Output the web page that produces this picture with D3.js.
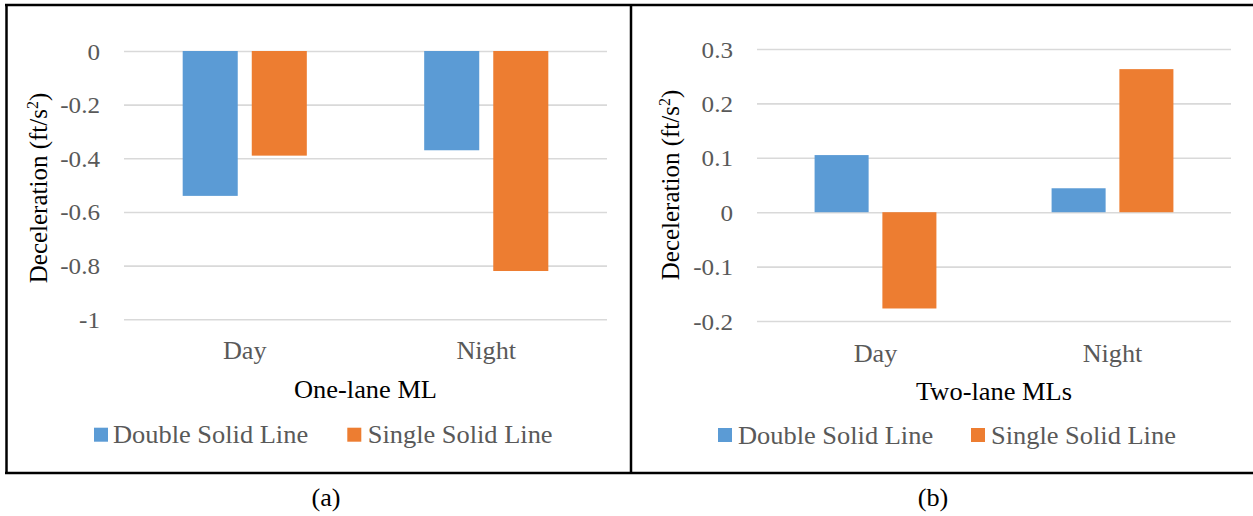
<!DOCTYPE html>
<html>
<head>
<meta charset="utf-8">
<script src="https://cdn.jsdelivr.net/npm/d3@7"></script>
<style>
  html, body { margin: 0; padding: 0; background: #fff; }
  svg { display: block; }
  svg text { font-family: 'Liberation Serif', 'Times New Roman', Tinos, Times, 'DejaVu Serif', 'Noto Serif', serif; }
</style>
</head>
<body>
<svg id="fig" width="1253" height="516"></svg>
<script>
// Categories and series
const categories = ["Day", "Night"];
const seriesNames = ["Double Solid Line", "Single Solid Line"];
const seriesColors = ["#5b9bd5", "#ed7d31"];

// (a) One-lane ML deceleration (ft/s^2)
const oneLaneDouble = [-0.54, -0.37];
const oneLaneSingle = [-0.39, -0.82];
const oneLaneTicks = [0, -0.2, -0.4, -0.6, -0.8, -1];

// (b) Two-lane MLs deceleration (ft/s^2)
const twoLaneDouble = [0.105, 0.044];
const twoLaneSingle = [-0.177, 0.263];
const twoLaneTicks = [0.3, 0.2, 0.1, 0, -0.1, -0.2];

const SERIF = "'Liberation Serif', 'Times New Roman', Tinos, Times, 'DejaVu Serif', 'Noto Serif', serif";
const SX = 1.07; // horizontal text stretch
const svg = d3.select("#fig");

const panels = [
  {
    title: "One-lane ML", caption: "(a)",
    values: [oneLaneDouble, oneLaneSingle],
    ticks: oneLaneTicks, domain: [-1, 0],
    x0: 124, x1: 607, yBottom: 319.3, yTop: 51,
    tickRight: 100, yTitleX: 38.5, yTitleY: 188,
    catBase: 359, xTitleBase: 398,
    legendSq: [94, 347.3], legendText: [113, 367.7], legendY: 427.7, legendBase: 443,
    captionX: 326
  },
  {
    title: "Two-lane MLs", caption: "(b)",
    values: [twoLaneDouble, twoLaneSingle],
    ticks: twoLaneTicks, domain: [-0.2, 0.3],
    x0: 757, x1: 1231, yBottom: 321, yTop: 49,
    tickRight: 733, yTitleX: 671, yTitleY: 185,
    catBase: 362, xTitleBase: 400,
    legendSq: [718, 971], legendText: [738, 991], legendY: 428, legendBase: 443.5,
    captionX: 933
  }
];

function stretchedText(g, x, y, str, size, fill, anchor) {
  return g.append("text")
    .attr("transform", `translate(${x},${y}) scale(${SX},1)`)
    .attr("text-anchor", anchor || "start")
    .style("font-family", SERIF)
    .attr("font-size", size)
    .attr("fill", fill)
    .text(str);
}

panels.forEach(p => {
  const g = svg.append("g");

  const y = d3.scaleLinear().domain(p.domain).range([p.yBottom, p.yTop]);
  const x = d3.scaleBand().domain(categories).range([p.x0, p.x1])
    .paddingInner(0.486).paddingOuter(0.243);
  const xs = d3.scaleBand().domain(seriesNames).range([0, x.bandwidth()])
    .paddingInner(0.203).paddingOuter(0);

  // gridlines + tick labels
  const axis = d3.axisLeft(y).tickValues(p.ticks).tickSize(-(p.x1 - p.x0))
    .tickFormat(d => String(d));
  const ag = g.append("g").attr("transform", `translate(${p.x0},0)`).call(axis);
  ag.attr("font-family", null);
  ag.select(".domain").remove();
  ag.selectAll(".tick line").attr("stroke", "#d9d9d9").attr("stroke-width", 1.6);
  ag.selectAll(".tick text")
    .attr("x", null).attr("dy", null)
    .style("font-family", SERIF)
    .attr("font-size", 23.5)
    .attr("fill", "#595959")
    .attr("text-anchor", "end")
    .attr("transform", `translate(${p.tickRight - p.x0},8) scale(${SX},1)`);

  // bars
  seriesNames.forEach((s, si) => {
    g.append("g").selectAll("rect")
      .data(categories.map((c, ci) => ({ c, v: p.values[si][ci] })))
      .join("rect")
      .attr("x", d => x(d.c) + xs(s))
      .attr("width", xs.bandwidth())
      .attr("y", d => y(Math.max(0, d.v)))
      .attr("height", d => Math.abs(y(d.v) - y(0)))
      .attr("fill", seriesColors[si]);
  });

  // category labels
  categories.forEach(c => {
    stretchedText(g, x(c) + x.bandwidth() / 2, p.catBase, c, 24.5, "#595959", "middle");
  });

  // x-axis title
  stretchedText(g, (p.x0 + p.x1) / 2, p.xTitleBase, p.title, 24.7, "#000", "middle");

  // y-axis title
  const yt = g.append("text")
    .attr("transform", `translate(${p.yTitleX},${p.yTitleY}) rotate(-90)`)
    .attr("text-anchor", "middle")
    .attr("dy", "0.33em")
    .style("font-family", SERIF)
    .attr("font-size", 25)
    .attr("fill", "#000");
  yt.append("tspan").text("Deceleration (ft/s");
  yt.append("tspan").attr("font-size", 16).attr("dy", -9).text("2");
  yt.append("tspan").attr("dy", 9).text(")");

  // legend
  seriesNames.forEach((s, si) => {
    g.append("rect")
      .attr("x", p.legendSq[si]).attr("y", p.legendY)
      .attr("width", 14).attr("height", 14)
      .attr("fill", seriesColors[si]);
    stretchedText(g, p.legendText[si], p.legendBase, s, 24.7, "#595959", "start");
  });

  // caption below the frame
  stretchedText(g, p.captionX, 506, p.caption, 24.5, "#000", "middle");
});

// frame around both panels
const frame = svg.append("g").attr("stroke", "#000").attr("stroke-width", 2.5);
frame.append("line").attr("x1", 5).attr("x2", 1253).attr("y1", 5).attr("y2", 5);
frame.append("line").attr("x1", 5).attr("x2", 1253).attr("y1", 473).attr("y2", 473);
frame.append("line").attr("x1", 6.5).attr("x2", 6.5).attr("y1", 4).attr("y2", 474);
frame.append("line").attr("x1", 631).attr("x2", 631).attr("y1", 4).attr("y2", 474);
</script>
</body>
</html>
